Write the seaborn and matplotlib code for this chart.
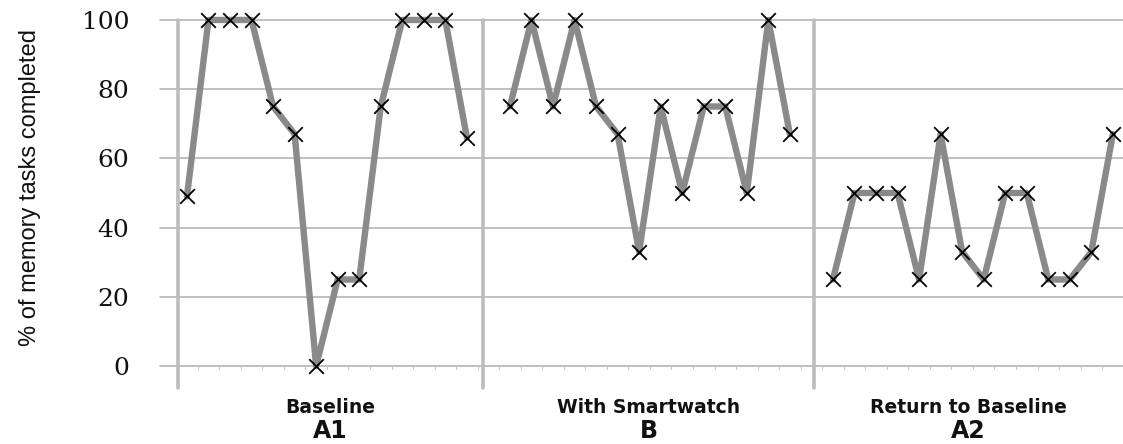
import numpy as np
import pandas as pd
import matplotlib
matplotlib.use("Agg")
import matplotlib.pyplot as plt
import seaborn as sns

# ---- data ----
phases = ["A1", "B", "A2"]
phase_names = ["Baseline", "With Smartwatch", "Return to Baseline"]
a1_values = [49, 100, 100, 100, 75, 67, 0, 25, 25, 75, 100, 100, 100, 66]
b_values = [75, 100, 75, 100, 75, 67, 33, 75, 50, 75, 75, 50, 100, 67]
a2_values = [25, 50, 50, 50, 25, 67, 33, 25, 50, 50, 25, 25, 33, 67]
y_ticks = [0, 20, 40, 60, 80, 100]
y_label = "% of memory tasks completed"

series = [a1_values, b_values, a2_values]
rows = []
pos = 0
for ph, vals in zip(phases, series):
    for v in vals:
        rows.append({"phase": ph, "x": pos, "value": v})
        pos += 1
    pos += 1  # empty category between phases
df = pd.DataFrame(rows)

sns.set_theme(style="white")
fig = plt.figure(figsize=(11.23, 4.44), dpi=100)
ax = fig.add_axes([0.1425, 0.1757, 0.8575, 0.7793])

line_color = "#8a8a8a"
for ph in phases:
    sub = df[df.phase == ph]
    sns.lineplot(data=sub, x="x", y="value", ax=ax, color=line_color,
                 linewidth=4.6, zorder=3, clip_on=False, legend=False)
    sns.scatterplot(data=sub, x="x", y="value", ax=ax, marker="x", color="black",
                    s=110, linewidth=1.3, zorder=4, clip_on=False, legend=False)

ax.set_xlim(-1.25, 43.47)
ax.set_ylim(0, 100)
for s in ax.spines.values():
    s.set_visible(False)

# horizontal gridlines
for t in y_ticks:
    ax.axhline(t, color="#b5b5b5", linewidth=1.2, zorder=1, clip_on=False)

# phase separators
sep_positions = [-0.42, 13.75, 29.12]
for sx in sep_positions:
    ax.axvline(sx, ymin=-0.064, ymax=1.0, color="#bdbdbd", linewidth=2.6,
               zorder=2, clip_on=False)

# minor ticks under the category axis
ax.set_xticks([])
for i in range(0, 44):
    ax.plot([i + 0.5, i + 0.5], [0, -0.8], color="#c8c8c8", linewidth=0.8,
            clip_on=False, zorder=1)

ax.set_yticks(y_ticks)
ax.set_yticklabels([str(t) for t in y_ticks], family="DejaVu Serif", fontsize=18,
                   color="#111111")
ax.tick_params(axis="y", length=0, pad=22)
ax.set_xlabel("")
ax.set_ylabel("")

fig.text(0.027, 0.578, y_label, rotation=90, ha="center", va="center",
         fontsize=17, family=["Liberation Sans", "DejaVu Sans"],
         color="#111111")

# phase labels
bounds = sep_positions + [43.47]
for k, (name, ph) in enumerate(zip(phase_names, phases)):
    cx = (bounds[k] + bounds[k + 1]) / 2
    ax.text(cx, -12.0, name, ha="center", va="center", fontsize=13.5,
            fontweight="bold", family="DejaVu Sans", color="#111111", clip_on=False)
    ax.text(cx, -18.8, ph, ha="center", va="center", fontsize=17,
            fontweight="bold", family="DejaVu Sans", color="#111111", clip_on=False)

fig.savefig("out.png", dpi=100)
